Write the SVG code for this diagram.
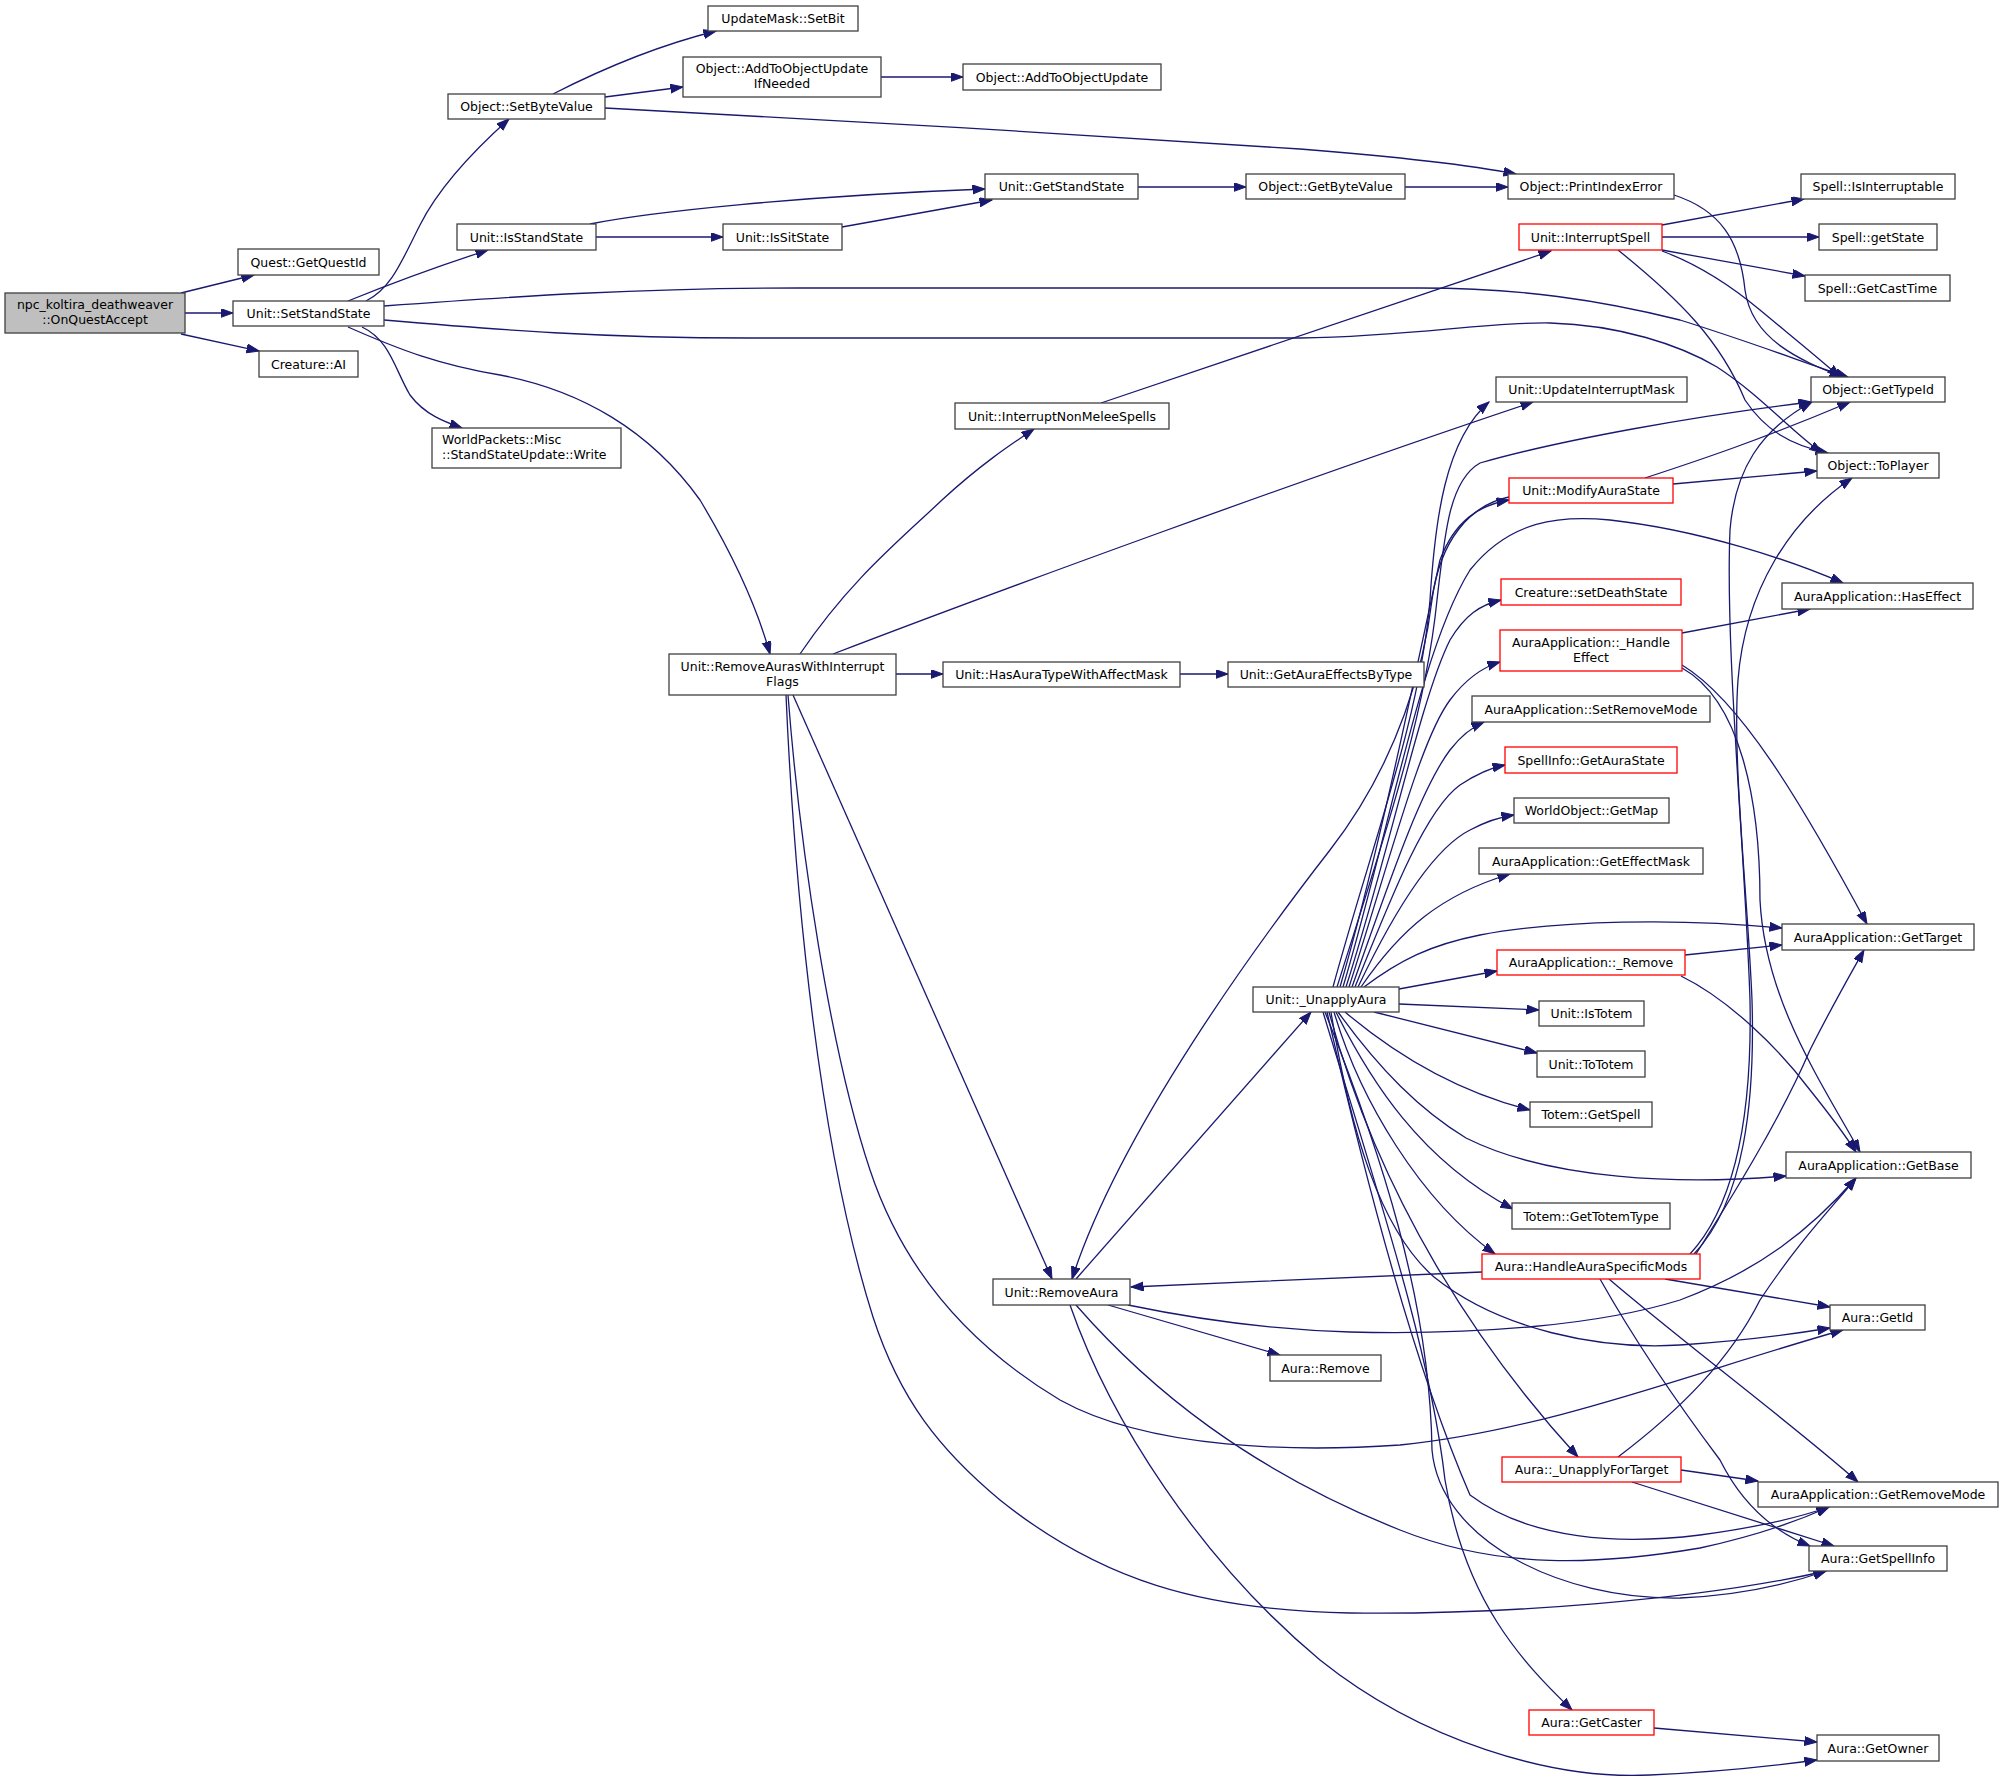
<svg xmlns="http://www.w3.org/2000/svg" width="2003" height="1782" viewBox="0 0 2003 1782">
<style>
.n rect{fill:#fff;stroke:#404040;stroke-width:1.3}
.r rect{fill:#fff;stroke:#ff0000;stroke-width:1.3}
.g rect{fill:#bfbfbf;stroke:#404040;stroke-width:1.3}
text{font-family:"DejaVu Sans","Liberation Sans",sans-serif;font-size:12.5px;text-anchor:middle;fill:#000}
#edges path{fill:none;stroke:#191970;stroke-width:1.3;marker-end:url(#a)}
</style>
<defs>
<marker id="a" markerWidth="14" markerHeight="10" refX="12.5" refY="4.5" orient="auto" markerUnits="userSpaceOnUse">
<path d="M0,0 L12.5,4.5 L0,9 z" fill="#191970" stroke="#191970" stroke-width="1"/>
</marker>
</defs>
<rect width="2003" height="1782" fill="#fff"/>
<g id="edges">
<path d="M181,293 L254,275"/>
<path d="M185,313 L233,313"/>
<path d="M181,334 L259,351"/>
<path d="M366,301 C392,288 402,260 420,225 C440,185 480,145 509,119"/>
<path d="M348,301 C380,288 420,272 488,250"/>
<path d="M362,327 C390,340 395,370 410,395 C425,415 445,422 462,428"/>
<path d="M348,327 C400,350 440,365 500,375 C580,390 650,430 700,500 C730,550 755,600 770,654"/>
<path d="M384,306 C520,296 640,288 800,288 L1420,288 C1520,288 1600,300 1680,320 C1760,345 1810,365 1848,377"/>
<path d="M384,320 C500,330 600,338 750,338 L1300,338 C1420,336 1480,322 1550,323 C1620,325 1680,345 1717,367 C1760,395 1790,430 1822,453"/>
<path d="M553,94 C600,70 660,45 716,31"/>
<path d="M605,97 L683,87"/>
<path d="M605,108 C800,118 1100,135 1300,149 C1400,157 1470,165 1516,174"/>
<path d="M881,77 L963,77"/>
<path d="M590,224 C650,212 800,196 985,189"/>
<path d="M596,237 L723,237"/>
<path d="M842,227 L992,200"/>
<path d="M1138,187 L1246,187"/>
<path d="M1405,187 L1508,187"/>
<path d="M1101,403 L1551,251"/>
<path d="M800,654 C850,580 900,540 942,500 C980,465 1010,445 1034,429"/>
<path d="M833,654 C1000,590 1300,480 1533,402"/>
<path d="M896,674 L943,674"/>
<path d="M1180,674 L1228,674"/>
<path d="M793,695 L1052,1279"/>
<path d="M788,695 C800,850 830,1050 870,1170 C900,1260 960,1340 1060,1400 C1150,1450 1300,1452 1400,1445 C1550,1430 1700,1370 1843,1330"/>
<path d="M786,695 C795,900 820,1150 873,1317 C900,1400 940,1450 1000,1500 C1100,1580 1200,1610 1350,1613 C1500,1615 1700,1600 1826,1571"/>
<path d="M1076,1279 L1311,1012"/>
<path d="M1509,497 C1470,505 1440,540 1432,600 C1425,660 1400,760 1330,850 C1260,940 1120,1130 1072,1279"/>
<path d="M1108,1305 L1280,1355"/>
<path d="M1128,1305 C1200,1320 1280,1330 1350,1332 C1480,1335 1600,1325 1680,1300 C1760,1270 1810,1230 1856,1178"/>
<path d="M1076,1305 C1150,1390 1250,1470 1400,1530 C1500,1570 1600,1565 1700,1548 C1760,1535 1800,1520 1829,1507"/>
<path d="M1070,1305 C1110,1420 1200,1560 1320,1660 C1420,1740 1550,1780 1650,1775 C1720,1772 1780,1765 1817,1760"/>
<path d="M1482,1272 C1350,1277 1250,1282 1131,1287"/>
<path d="M1333,987 C1370,850 1420,720 1430,600 C1435,520 1445,440 1489,402"/>
<path d="M1337,987 C1380,850 1425,720 1437,600 C1445,530 1450,480 1480,463 C1560,440 1700,415 1811,402"/>
<path d="M1340,987 C1380,850 1420,650 1440,560 C1455,520 1480,505 1509,500"/>
<path d="M1343,987 C1390,830 1420,650 1470,570 C1510,520 1560,515 1610,520 C1700,530 1790,560 1843,583"/>
<path d="M1346,987 C1390,850 1420,700 1450,640 C1465,615 1480,605 1501,600"/>
<path d="M1349,987 C1390,860 1420,740 1450,700 C1465,680 1480,668 1500,662"/>
<path d="M1352,987 C1390,880 1420,790 1450,750 C1460,737 1470,728 1484,722"/>
<path d="M1355,987 C1390,900 1425,810 1460,785 C1475,775 1490,768 1505,765"/>
<path d="M1358,987 C1390,920 1430,850 1470,830 C1485,822 1500,817 1514,815"/>
<path d="M1361,987 C1400,930 1440,895 1510,874"/>
<path d="M1364,987 C1400,960 1430,945 1480,935 C1560,920 1680,918 1782,928"/>
<path d="M1399,989 L1497,971"/>
<path d="M1399,1004 L1539,1010"/>
<path d="M1374,1012 L1537,1053"/>
<path d="M1345,1012 C1390,1050 1450,1090 1530,1110"/>
<path d="M1338,1012 C1380,1070 1420,1110 1466,1138 C1550,1180 1680,1185 1786,1176"/>
<path d="M1336,1012 C1370,1080 1420,1160 1513,1209"/>
<path d="M1334,1012 C1360,1100 1420,1200 1495,1254"/>
<path d="M1331,1012 C1350,1130 1380,1230 1434,1277 C1500,1330 1600,1350 1680,1345 C1750,1340 1800,1333 1830,1328"/>
<path d="M1329,1012 C1380,1200 1480,1350 1578,1457"/>
<path d="M1327,1012 C1370,1200 1420,1380 1470,1495 C1530,1540 1620,1545 1700,1535 C1760,1527 1800,1517 1829,1507"/>
<path d="M1325,1012 C1380,1150 1430,1300 1432,1450 C1440,1540 1560,1600 1680,1598 C1750,1595 1800,1580 1826,1571"/>
<path d="M1323,1012 C1380,1200 1430,1350 1445,1480 C1465,1600 1520,1660 1572,1710"/>
<path d="M1662,225 L1804,199"/>
<path d="M1662,237 L1819,237"/>
<path d="M1662,250 L1805,276"/>
<path d="M1662,251 C1700,265 1730,285 1760,310 C1790,335 1815,355 1840,377"/>
<path d="M1618,250 C1680,300 1720,340 1745,400 C1765,430 1790,445 1828,453"/>
<path d="M1674,195 C1720,210 1740,240 1745,290 C1752,340 1800,360 1842,377"/>
<path d="M1645,478 C1700,460 1760,440 1850,402"/>
<path d="M1673,484 L1817,471"/>
<path d="M1690,1254 C1740,1200 1752,1100 1750,1000 C1745,850 1725,650 1730,530 C1735,470 1760,430 1812,402"/>
<path d="M1694,1254 C1745,1200 1755,1100 1752,1000 C1748,900 1732,760 1738,680 C1745,590 1790,520 1852,478"/>
<path d="M1696,1254 C1730,1200 1780,1120 1810,1050 C1830,1010 1850,975 1864,950"/>
<path d="M1665,1279 L1830,1307"/>
<path d="M1609,1279 C1680,1340 1800,1430 1858,1482"/>
<path d="M1600,1279 C1640,1350 1690,1420 1720,1460 C1740,1500 1770,1530 1810,1546"/>
<path d="M1618,1457 C1680,1410 1730,1360 1760,1300 C1800,1240 1830,1210 1856,1178"/>
<path d="M1681,1470 L1758,1481"/>
<path d="M1632,1482 L1834,1546"/>
<path d="M1682,633 L1810,609"/>
<path d="M1682,665 C1740,700 1800,800 1867,924"/>
<path d="M1682,668 C1740,700 1760,800 1760,900 C1765,1000 1820,1080 1860,1152"/>
<path d="M1685,955 L1782,945"/>
<path d="M1681,976 C1730,1000 1780,1050 1810,1090 C1830,1115 1845,1135 1856,1152"/>
<path d="M1654,1728 L1817,1742"/>
</g>
<g id="n0" class="g"><rect x="5" y="293" width="180" height="40"/><text x="95" y="309">npc_koltira_deathweaver</text><text x="95" y="324">::OnQuestAccept</text></g>
<g id="n1" class="n"><rect x="238" y="249" width="141" height="26"/><text x="308.5" y="266.5">Quest::GetQuestId</text></g>
<g id="n2" class="n"><rect x="233" y="301" width="151" height="25"/><text x="308.5" y="318">Unit::SetStandState</text></g>
<g id="n3" class="n"><rect x="259" y="351" width="99" height="26"/><text x="308.5" y="368.5">Creature::AI</text></g>
<g id="n4" class="n"><rect x="448" y="94" width="157" height="25"/><text x="526.5" y="111">Object::SetByteValue</text></g>
<g id="n5" class="n"><rect x="457" y="224" width="139" height="26"/><text x="526.5" y="241.5">Unit::IsStandState</text></g>
<g id="n6" class="n"><rect x="432" y="428" width="189" height="40"/><text x="442" y="444" style="text-anchor:start">WorldPackets::Misc</text><text x="442" y="459" style="text-anchor:start">::StandStateUpdate::Write</text></g>
<g id="n7" class="n"><rect x="708" y="6" width="150" height="25"/><text x="783" y="23">UpdateMask::SetBit</text></g>
<g id="n8" class="n"><rect x="683" y="57" width="198" height="40"/><text x="782" y="73">Object::AddToObjectUpdate</text><text x="782" y="88">IfNeeded</text></g>
<g id="n9" class="n"><rect x="963" y="64" width="198" height="26"/><text x="1062" y="81.5">Object::AddToObjectUpdate</text></g>
<g id="n10" class="n"><rect x="985" y="174" width="153" height="25"/><text x="1061.5" y="191">Unit::GetStandState</text></g>
<g id="n11" class="n"><rect x="723" y="224" width="119" height="26"/><text x="782.5" y="241.5">Unit::IsSitState</text></g>
<g id="n12" class="n"><rect x="1246" y="174" width="159" height="25"/><text x="1325.5" y="191">Object::GetByteValue</text></g>
<g id="n13" class="n"><rect x="955" y="403" width="214" height="26"/><text x="1062" y="420.5">Unit::InterruptNonMeleeSpells</text></g>
<g id="n14" class="n"><rect x="1508" y="174" width="166" height="25"/><text x="1591" y="191">Object::PrintIndexError</text></g>
<g id="n15" class="n"><rect x="1801" y="174" width="154" height="25"/><text x="1878" y="191">Spell::IsInterruptable</text></g>
<g id="n16" class="r"><rect x="1519" y="224" width="143" height="26"/><text x="1590.5" y="241.5">Unit::InterruptSpell</text></g>
<g id="n17" class="n"><rect x="1819" y="224" width="118" height="26"/><text x="1878" y="241.5">Spell::getState</text></g>
<g id="n18" class="n"><rect x="1805" y="275" width="145" height="26"/><text x="1877.5" y="292.5">Spell::GetCastTime</text></g>
<g id="n19" class="n"><rect x="1496" y="377" width="191" height="25"/><text x="1591.5" y="394">Unit::UpdateInterruptMask</text></g>
<g id="n20" class="n"><rect x="1811" y="377" width="134" height="25"/><text x="1878" y="394">Object::GetTypeId</text></g>
<g id="n21" class="n"><rect x="1817" y="453" width="122" height="25"/><text x="1878" y="470">Object::ToPlayer</text></g>
<g id="n22" class="r"><rect x="1509" y="478" width="164" height="25"/><text x="1591" y="495">Unit::ModifyAuraState</text></g>
<g id="n23" class="r"><rect x="1501" y="579" width="180" height="26"/><text x="1591" y="596.5">Creature::setDeathState</text></g>
<g id="n24" class="n"><rect x="1782" y="583" width="191" height="26"/><text x="1877.5" y="600.5">AuraApplication::HasEffect</text></g>
<g id="n25" class="r"><rect x="1500" y="630" width="182" height="41"/><text x="1591" y="647">AuraApplication::_Handle</text><text x="1591" y="661.5">Effect</text></g>
<g id="n26" class="n"><rect x="1472" y="696" width="238" height="26"/><text x="1591" y="713.5">AuraApplication::SetRemoveMode</text></g>
<g id="n27" class="r"><rect x="1505" y="747" width="172" height="26"/><text x="1591" y="764.5">SpellInfo::GetAuraState</text></g>
<g id="n28" class="n"><rect x="1514" y="798" width="155" height="25"/><text x="1591.5" y="815">WorldObject::GetMap</text></g>
<g id="n29" class="n"><rect x="1479" y="848" width="224" height="26"/><text x="1591" y="865.5">AuraApplication::GetEffectMask</text></g>
<g id="n30" class="n"><rect x="1782" y="924" width="192" height="26"/><text x="1878" y="941.5">AuraApplication::GetTarget</text></g>
<g id="n31" class="r"><rect x="1497" y="950" width="188" height="25"/><text x="1591" y="967">AuraApplication::_Remove</text></g>
<g id="n32" class="n"><rect x="1253" y="987" width="146" height="25"/><text x="1326" y="1004">Unit::_UnapplyAura</text></g>
<g id="n33" class="n"><rect x="669" y="654" width="227" height="41"/><text x="782.5" y="671">Unit::RemoveAurasWithInterrupt</text><text x="782.5" y="685.5">Flags</text></g>
<g id="n34" class="n"><rect x="943" y="662" width="237" height="25"/><text x="1061.5" y="679">Unit::HasAuraTypeWithAffectMask</text></g>
<g id="n35" class="n"><rect x="1228" y="662" width="196" height="25"/><text x="1326" y="679">Unit::GetAuraEffectsByType</text></g>
<g id="n36" class="n"><rect x="1539" y="1001" width="105" height="25"/><text x="1591.5" y="1018">Unit::IsTotem</text></g>
<g id="n37" class="n"><rect x="1537" y="1051" width="108" height="26"/><text x="1591" y="1068.5">Unit::ToTotem</text></g>
<g id="n38" class="n"><rect x="1530" y="1102" width="122" height="25"/><text x="1591" y="1119">Totem::GetSpell</text></g>
<g id="n39" class="n"><rect x="1786" y="1152" width="185" height="26"/><text x="1878.5" y="1169.5">AuraApplication::GetBase</text></g>
<g id="n40" class="n"><rect x="1512" y="1203" width="158" height="26"/><text x="1591" y="1220.5">Totem::GetTotemType</text></g>
<g id="n41" class="r"><rect x="1482" y="1254" width="218" height="25"/><text x="1591" y="1271">Aura::HandleAuraSpecificMods</text></g>
<g id="n42" class="n"><rect x="1830" y="1305" width="95" height="25"/><text x="1877.5" y="1322">Aura::GetId</text></g>
<g id="n43" class="n"><rect x="1270" y="1355" width="111" height="26"/><text x="1325.5" y="1372.5">Aura::Remove</text></g>
<g id="n44" class="n"><rect x="993" y="1279" width="137" height="26"/><text x="1061.5" y="1296.5">Unit::RemoveAura</text></g>
<g id="n45" class="r"><rect x="1502" y="1457" width="179" height="25"/><text x="1591.5" y="1474">Aura::_UnapplyForTarget</text></g>
<g id="n46" class="n"><rect x="1758" y="1482" width="240" height="25"/><text x="1878" y="1499">AuraApplication::GetRemoveMode</text></g>
<g id="n47" class="n"><rect x="1809" y="1546" width="138" height="25"/><text x="1878" y="1563">Aura::GetSpellInfo</text></g>
<g id="n48" class="r"><rect x="1529" y="1710" width="125" height="25"/><text x="1591.5" y="1727">Aura::GetCaster</text></g>
<g id="n49" class="n"><rect x="1817" y="1735" width="122" height="26"/><text x="1878" y="1752.5">Aura::GetOwner</text></g>
</svg>
